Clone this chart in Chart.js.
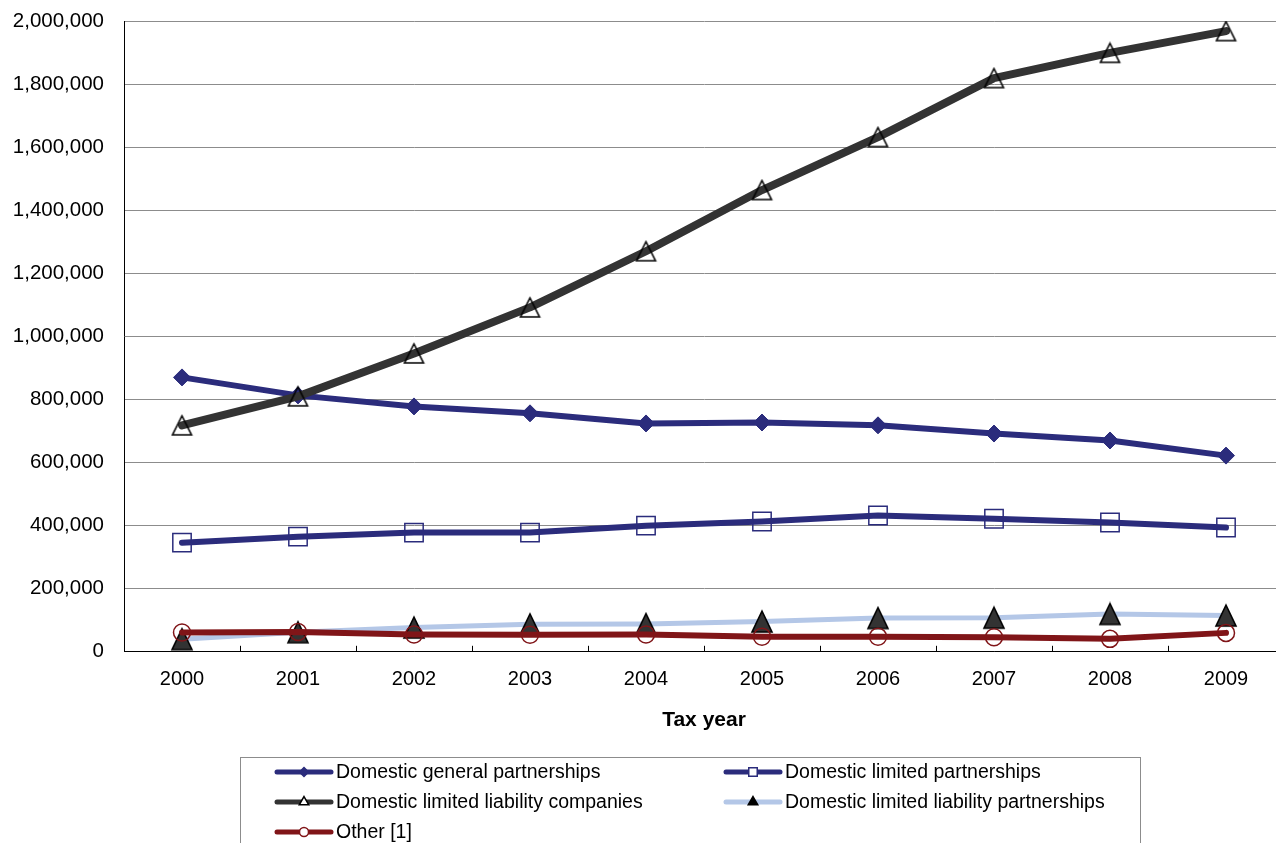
<!DOCTYPE html>
<html>
<head>
<meta charset="utf-8">
<script src="https://cdn.jsdelivr.net/npm/chart.js@4.4.1/dist/chart.umd.min.js"></script>
<style>
  html, body { margin: 0; padding: 0; background: #fff; overflow: hidden; }
  #wrap { width: 1290px; height: 843px; }
</style>
</head>
<body>
<div id="wrap"><canvas id="grafico" width="1290" height="843"></canvas></div>
<script>
var anos = ['2000', '2001', '2002', '2003', '2004', '2005', '2006', '2007', '2008', '2009'];
var generalPartnerships = [870000, 813000, 778000, 756000, 724000, 727000, 718000, 692000, 670000, 622000];
var limitedPartnerships = [346000, 365000, 378000, 378000, 400000, 413000, 432000, 422000, 410000, 394000];
var llcCompanies = [718000, 810000, 946000, 1092000, 1270000, 1464000, 1632000, 1819000, 1899000, 1968000];
var llpPartnerships = [40000, 62000, 77000, 87000, 88000, 96000, 107000, 108000, 120000, 115000];
var outros = [61000, 63000, 55000, 54000, 55000, 48000, 48000, 46000, 41000, 60000];
var yTicks = [0, 200000, 400000, 600000, 800000, 1000000, 1200000, 1400000, 1600000, 1800000, 2000000];

var fonte = '"Liberation Sans", Arial, sans-serif';

// triangle marker centred on its box, like the spreadsheet ones
function triangulo(w, h, fill, stroke) {
	var c = document.createElement('canvas');
	c.width = w + 4;
	c.height = h + 4;
	var g = c.getContext('2d');
	g.beginPath();
	g.moveTo(c.width / 2, 2);
	g.lineTo(c.width - 2, c.height - 2);
	g.lineTo(2, c.height - 2);
	g.closePath();
	if (fill) { g.fillStyle = fill; g.fill(); }
	g.strokeStyle = stroke;
	g.lineWidth = 1.6;
	g.lineJoin = 'miter';
	g.stroke();
	return c;
}

// ticks inside the plot between the categories + the boxed legend at the bottom
var extras = {
	id: 'extras',
	afterDraw: function(chart) {
		var ctx = chart.ctx;
		var x = chart.scales.x;
		var area = chart.chartArea;
		ctx.save();
		ctx.strokeStyle = '#000';
		ctx.lineWidth = 1;
		for (var i = 1; i < anos.length; i++) {
			var px = Math.round(x.getPixelForValue(i - 0.5)) + 0.5;
			ctx.beginPath();
			ctx.moveTo(px, area.bottom);
			ctx.lineTo(px, area.bottom - 6);
			ctx.stroke();
		}

		// legend
		ctx.strokeStyle = '#8c8c8c';
		ctx.strokeRect(240.5, 757.5, 900, 100);
		ctx.font = '19.5px ' + fonte;
		ctx.textBaseline = 'middle';
		chart.data.datasets.forEach(function(ds, i) {
			var lx = (i % 2 === 0) ? 275 : 724;
			var ly = 772 + Math.floor(i / 2) * 30;
			ctx.beginPath();
			ctx.lineCap = 'round';
			ctx.strokeStyle = ds.borderColor;
			ctx.lineWidth = 5;
			ctx.moveTo(lx + 2, ly);
			ctx.lineTo(lx + 56, ly);
			ctx.stroke();
			ctx.fillStyle = ds.legendFill;
			ctx.strokeStyle = ds.legendStroke;
			ctx.lineWidth = 1.5;
			Chart.helpers.drawPoint(ctx, {
				pointStyle: ds.legendStyle,
				radius: ds.legendRadius,
				borderWidth: 1.5
			}, lx + 29, ly);
			ctx.fillStyle = '#000';
			ctx.fillText(ds.label, lx + 61, ly + 1);
		});
		ctx.restore();
	}
};

var grafico = new Chart(document.getElementById('grafico').getContext('2d'), {
	type: 'line',
	data: {
		labels: anos,
		datasets: [{
			label: 'Domestic general partnerships',
			data: generalPartnerships,
			borderColor: '#2b2c7c',
			borderWidth: 6,
			pointStyle: 'rectRot',
			pointRadius: 8.5,
			pointBackgroundColor: '#2b2c7c',
			pointBorderColor: '#2b2c7c',
			pointBorderWidth: 1,
			legendStyle: 'rectRot',
			legendRadius: 4.5,
			legendFill: '#2b2c7c',
			legendStroke: '#2b2c7c',
			order: 4
		}, {
			label: 'Domestic limited partnerships',
			data: limitedPartnerships,
			borderColor: '#2b2c7c',
			borderWidth: 6,
			pointStyle: 'rect',
			pointRadius: 13,
			pointBackgroundColor: 'rgba(255,255,255,0)',
			pointBorderColor: '#2b2c7c',
			pointBorderWidth: 1.5,
			legendStyle: 'rect',
			legendRadius: 6,
			legendFill: '#fff',
			legendStroke: '#2b2c7c',
			order: 3
		}, {
			label: 'Domestic limited liability companies',
			data: llcCompanies,
			borderColor: '#333333',
			borderWidth: 8,
			pointStyle: triangulo(19, 19, null, '#000'),
			pointRadius: 10,
			legendStyle: 'triangle',
			legendRadius: 5.5,
			legendFill: '#fff',
			legendStroke: '#000',
			order: 2
		}, {
			label: 'Domestic limited liability partnerships',
			data: llpPartnerships,
			borderColor: '#b4c7e7',
			borderWidth: 5,
			pointStyle: triangulo(20, 21, '#333333', '#000'),
			pointRadius: 11,
			legendStyle: 'triangle',
			legendRadius: 5.5,
			legendFill: '#000',
			legendStroke: '#000',
			order: 1
		}, {
			label: 'Other [1]',
			data: outros,
			borderColor: '#801518',
			borderWidth: 6,
			pointStyle: 'circle',
			pointRadius: 8.5,
			pointBackgroundColor: 'rgba(255,255,255,0)',
			pointBorderColor: '#801518',
			pointBorderWidth: 1.5,
			legendStyle: 'circle',
			legendRadius: 4.5,
			legendFill: '#fff',
			legendStroke: '#801518',
			order: 0
		}]
	},
	options: {
		responsive: false,
		animation: false,
		devicePixelRatio: 1,
		layout: { autoPadding: false, padding: { top: 21, right: 6, bottom: 110, left: 0 } },
		elements: {
			line: { tension: 0, borderCapStyle: 'round', borderJoinStyle: 'round' }
		},
		plugins: {
			legend: { display: false },
			tooltip: { enabled: false }
		},
		scales: {
			x: {
				offset: true,
				grid: { display: true, drawOnChartArea: false, drawTicks: false },
				border: { color: '#000', width: 1 },
				ticks: { color: '#000', font: { family: fonte, size: 20 }, padding: 16, maxRotation: 0 },
				title: {
					display: true,
					text: 'Tax year',
					color: '#000',
					font: { family: fonte, size: 21, weight: 'bold' },
					padding: { top: 0, bottom: 0 }
				}
			},
			y: {
				min: 0,
				max: 2000000,
				afterFit: function(scale) {
					scale.width = 124;
					scale.paddingTop = 0;
					scale.paddingBottom = 0;
				},
				afterBuildTicks: function(scale) {
					scale.ticks = yTicks.map(function(v) { return { value: v }; });
				},
				grid: { color: '#8c8c8c', lineWidth: 1, drawTicks: false },
				border: { color: '#000', width: 1 },
				ticks: {
					color: '#000',
					font: { family: fonte, size: 20.5 },
					padding: 20,
					callback: function(v) { return Number(v).toLocaleString('en-US'); }
				}
			}
		}
	},
	plugins: [extras]
});
</script>
</body>
</html>
